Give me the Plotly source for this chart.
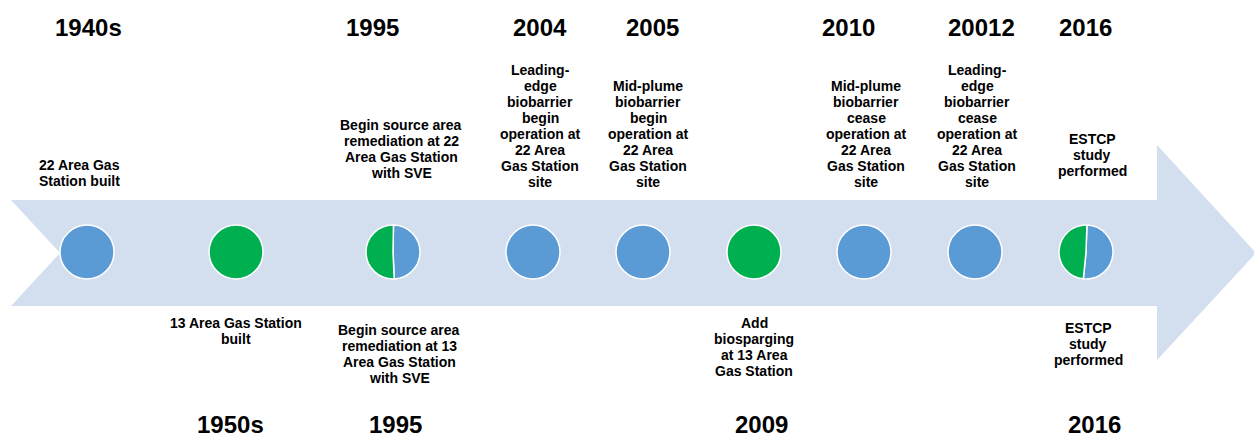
import plotly.graph_objects as go

# ---------------- data ----------------
event_years = ["1940s", "1950s", "1995", "2004", "2005", "2009", "2010", "20012", "2016"]
blue_share = [100, 0, 49, 100, 100, 0, 100, 100, 51]
green_share = [0, 100, 51, 0, 0, 100, 0, 0, 49]

top_years = ["1940s", "1995", "2004", "2005", "2010", "20012", "2016"]
bottom_years = ["1950s", "1995", "2009", "2016"]

top_texts = [
    ["22 Area Gas", "Station built"],
    ["Begin source area", "remediation at 22", "Area Gas Station", "with SVE"],
    ["Leading-", "edge", "biobarrier", "begin", "operation at", "22 Area", "Gas Station", "site"],
    ["Mid-plume", "biobarrier", "begin", "operation at", "22 Area", "Gas Station", "site"],
    ["Mid-plume", "biobarrier", "cease", "operation at", "22 Area", "Gas Station", "site"],
    ["Leading-", "edge", "biobarrier", "cease", "operation at", "22 Area", "Gas Station", "site"],
    ["ESTCP", "study", "performed"],
]
bottom_texts = [
    ["13 Area Gas Station", "built"],
    ["Begin source area", "remediation at 13", "Area Gas Station", "with SVE"],
    ["Add", "biosparging", "at 13 Area", "Gas Station"],
    ["ESTCP", "study", "performed"],
]

# ---------------- layout constants (pixel space) ----------------
W, H = 1254, 434
event_x = [87, 236, 393, 533, 643, 754, 864, 975, 1086]
event_y = 252
pie_r = 27
pie_rotation = [0, 0, 1, 0, 0, 0, 0, 0, 2]

top_year_x = [88, 372, 540, 652, 848, 981, 1085]
top_year_y = 27
bottom_year_x = [230, 395, 761, 1094]
bottom_year_y = 424

top_text_x = [79, 401, 540, 648, 866, 977, 1092]
top_text_y0 = [165, 125, 70, 86, 86, 70, 139]
bottom_text_x = [236, 399, 754, 1088]
bottom_text_y0 = [323, 330, 323, 328]
line_gap = 16

BLUE = "#5B9BD5"
GREEN = "#00B050"
ARROW = "#D3DEEF"
FONT = "Liberation Sans, Arial, sans-serif"

fig = go.Figure()

# invisible anchor trace to create the cartesian frame
fig.add_trace(go.Scatter(x=event_x, y=[event_y] * len(event_x), mode="markers",
                         marker=dict(size=1, opacity=0), hoverinfo="skip", showlegend=False))

# event circles (pies)
for i, yr in enumerate(event_years):
    vals, cols = [], []
    if blue_share[i] > 0:
        vals.append(blue_share[i]); cols.append(BLUE)
    if green_share[i] > 0:
        vals.append(green_share[i]); cols.append(GREEN)
    cx = event_x[i]
    fig.add_trace(go.Pie(
        values=vals, labels=[f"{yr}-{k}" for k in range(len(vals))],
        marker=dict(colors=cols, line=dict(color="white", width=1.5)),
        sort=False, direction="clockwise", rotation=pie_rotation[i],
        textinfo="none", hoverinfo="skip", showlegend=False,
        domain=dict(x=[(cx - pie_r) / W, (cx + pie_r) / W],
                    y=[1 - (event_y + pie_r) / H, 1 - (event_y - pie_r) / H]),
    ))

# arrow shape
arrow_path = ("M 11 200 L 1157 200 L 1157 145 L 1256 253 L 1157 360 L 1157 306 "
              "L 11 306 L 60 253 Z")
fig.add_shape(type="path", path=arrow_path, xref="x", yref="y",
              fillcolor=ARROW, line=dict(width=0), layer="below")

ann = []
for x, t in zip(top_year_x, top_years):
    ann.append(dict(x=x, y=top_year_y, text=f"<b>{t}</b>", font=dict(size=24)))
for x, t in zip(bottom_year_x, bottom_years):
    ann.append(dict(x=x, y=bottom_year_y, text=f"<b>{t}</b>", font=dict(size=24)))
for x, y0, lines in zip(top_text_x, top_text_y0, top_texts):
    for k, ln in enumerate(lines):
        ann.append(dict(x=x, y=y0 + k * line_gap, text=f"<b>{ln}</b>", font=dict(size=14)))
for x, y0, lines in zip(bottom_text_x, bottom_text_y0, bottom_texts):
    for k, ln in enumerate(lines):
        ann.append(dict(x=x, y=y0 + k * line_gap, text=f"<b>{ln}</b>", font=dict(size=14)))
for a in ann:
    a.update(xref="x", yref="y", showarrow=False, xanchor="center", yanchor="middle")
    a["font"].update(family=FONT, color="black")

fig.update_layout(
    width=W, height=H, margin=dict(l=0, r=0, t=0, b=0),
    paper_bgcolor="white", plot_bgcolor="white",
    xaxis=dict(range=[0, W], visible=False, fixedrange=True),
    yaxis=dict(range=[H, 0], visible=False, fixedrange=True),
    annotations=ann, showlegend=False,
)

fig.write_html("out.html", config={"displayModeBar": False},
               post_script="document.body.style.margin='0';document.body.style.overflow='hidden';")
